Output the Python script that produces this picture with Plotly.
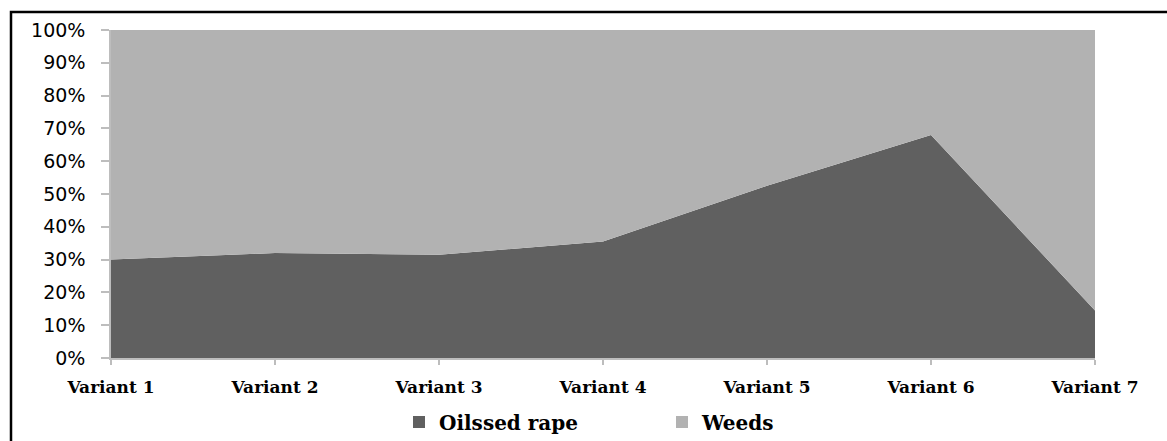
import plotly.graph_objects as go

# Share of biomass per treatment variant (%)
variants = ["Variant 1", "Variant 2", "Variant 3", "Variant 4", "Variant 5", "Variant 6", "Variant 7"]
oilseed_rape = [30.0, 32.0, 31.5, 35.5, 52.5, 68.0, 14.5]
weeds = [100 - v for v in oilseed_rape]
y_ticks = [0, 10, 20, 30, 40, 50, 60, 70, 80, 90, 100]
y_tick_labels = ["0%", "10%", "20%", "30%", "40%", "50%", "60%", "70%", "80%", "90%", "100%"]

RAPE_COLOR = "#606060"
WEED_COLOR = "#b2b2b2"
AXIS_COLOR = "#bdbdbd"

W, H = 1167, 441
M_L, M_R, M_T, M_B = 111, 72, 30, 83
plot_w = W - M_L - M_R
plot_h = H - M_T - M_B

x_idx = list(range(len(variants)))

fig = go.Figure()
fig.add_trace(go.Scatter(
    x=x_idx, y=oilseed_rape, stackgroup="one", mode="none",
    fillcolor=RAPE_COLOR, name="Oilssed rape", showlegend=False,
))
fig.add_trace(go.Scatter(
    x=x_idx, y=weeds, stackgroup="one", mode="none",
    fillcolor=WEED_COLOR, name="Weeds", showlegend=False,
))
# square legend keys
for name, col in [("Oilssed rape", RAPE_COLOR), ("Weeds", WEED_COLOR)]:
    fig.add_trace(go.Scatter(
        x=[None], y=[None], mode="markers", name=name,
        marker=dict(symbol="square", size=11, color=col),
    ))

# frame around the figure (top and left edges)
def px_x(p):
    return (p - M_L) / plot_w

def px_y(p):
    return (H - M_B - p) / plot_h

fig.add_shape(
    type="path", xref="paper", yref="paper",
    path=f"M {px_x(11)} {px_y(445)} L {px_x(11)} {px_y(12)} L {px_x(1170)} {px_y(12)}",
    line=dict(color="black", width=2.5),
)

fig.update_layout(
    width=W, height=H,
    margin=dict(l=M_L, r=M_R, t=M_T, b=M_B, autoexpand=False),
    paper_bgcolor="white", plot_bgcolor="white",
    showlegend=True,
    legend=dict(
        orientation="h", x=px_x(399), xanchor="left", y=px_y(422), yanchor="middle",
        font=dict(family="DejaVu Serif", size=20, color="black", weight="bold"),
        entrywidth=218, itemsizing="constant", traceorder="normal",
    ),
    xaxis=dict(
        range=[0, 6], tickvals=x_idx, ticktext=variants,
        showgrid=False, zeroline=False,
        showline=True, linecolor=AXIS_COLOR, linewidth=1.5,
        ticks="outside", ticklen=5, tickcolor=AXIS_COLOR, tickwidth=1.5,
        tickfont=dict(family="DejaVu Serif", size=17, color="black", weight="bold"),
        ticklabelstandoff=8,
    ),
    yaxis=dict(
        range=[0, 100], tickvals=y_ticks, ticktext=y_tick_labels,
        showgrid=False, zeroline=False,
        showline=True, linecolor=AXIS_COLOR, linewidth=1.5,
        ticks="outside", ticklen=8, tickcolor=AXIS_COLOR, tickwidth=1.5,
        tickfont=dict(family="DejaVu Sans", size=19, color="black"),
        ticklabelstandoff=12,
    ),
)

fig.write_html("out.html")
